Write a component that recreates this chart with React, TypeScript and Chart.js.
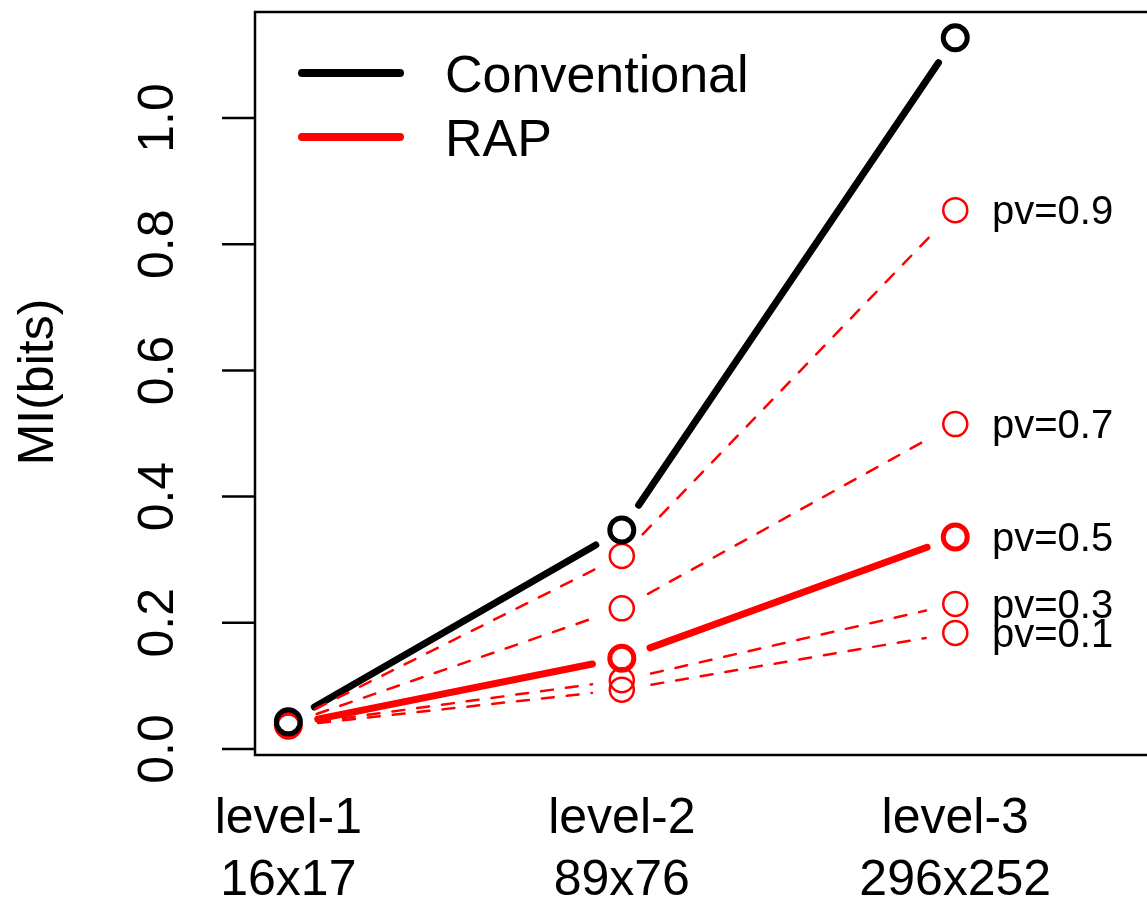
import React, { useEffect, useRef } from "react";
import { Chart, registerables } from "chart.js";

Chart.register(...registerables);

const levels = ["level-1", "level-2", "level-3"];
const sizes = ["16x17", "89x76", "296x252"];
const levelX = [1, 2, 3];

const conventional = [0.043, 0.347, 1.127];
const rapPv09 = [0.042, 0.306, 0.854];
const rapPv07 = [0.04, 0.223, 0.515];
const rapPv05 = [0.038, 0.144, 0.336];
const rapPv03 = [0.037, 0.109, 0.23];
const rapPv01 = [0.036, 0.094, 0.184];

const yTicks = [0.0, 0.2, 0.4, 0.6, 0.8, 1.0];
const yTickLabels = ["0.0", "0.2", "0.4", "0.6", "0.8", "1.0"];
const legendLabels = ["Conventional", "RAP"];

const FONT = '"Liberation Sans", Arial, sans-serif';

type Series = {
  name: string;
  values: number[];
  color: string;
  lineWidth: number;
  pointWidth: number;
  dashed: boolean;
  label: string | null;
};

const series: Series[] = [
  { name: "Conventional", values: conventional, color: "#000000", lineWidth: 7, pointWidth: 5, dashed: false, label: null },
  { name: "pv=0.9", values: rapPv09, color: "#FF0000", lineWidth: 2.5, pointWidth: 2.5, dashed: true, label: "pv=0.9" },
  { name: "pv=0.7", values: rapPv07, color: "#FF0000", lineWidth: 2.5, pointWidth: 2.5, dashed: true, label: "pv=0.7" },
  { name: "pv=0.5", values: rapPv05, color: "#FF0000", lineWidth: 7, pointWidth: 5, dashed: false, label: "pv=0.5" },
  { name: "pv=0.3", values: rapPv03, color: "#FF0000", lineWidth: 2.5, pointWidth: 2.5, dashed: true, label: "pv=0.3" },
  { name: "pv=0.1", values: rapPv01, color: "#FF0000", lineWidth: 2.5, pointWidth: 2.5, dashed: true, label: "pv=0.1" },
];

const gappedLines = {
  id: "gappedLines",
  beforeDatasetsDraw(chart: any) {
    const ctx = chart.ctx;
    const gap = 30;
    ctx.save();
    series.forEach((s, i) => {
      const meta = chart.getDatasetMeta(i);
      const pts = meta.data;
      ctx.strokeStyle = s.color;
      ctx.lineWidth = s.lineWidth;
      ctx.lineCap = "round";
      ctx.setLineDash(s.dashed ? [12, 13] : []);
      for (let k = 0; k < pts.length - 1; k++) {
        const x0 = pts[k].x, y0 = pts[k].y, x1 = pts[k + 1].x, y1 = pts[k + 1].y;
        const L = Math.hypot(x1 - x0, y1 - y0);
        if (L <= 2 * gap) continue;
        const ux = (x1 - x0) / L, uy = (y1 - y0) / L;
        ctx.beginPath();
        ctx.moveTo(x0 + ux * gap, y0 + uy * gap);
        ctx.lineTo(x1 - ux * gap, y1 - uy * gap);
        ctx.stroke();
      }
    });
    ctx.restore();
  },
};

const decorations = {
  id: "decorations",
  afterDraw(chart: any) {
    const ctx = chart.ctx;
    const area = chart.chartArea;
    const ys = chart.scales.y;
    const xs = chart.scales.x;
    ctx.save();
    ctx.setLineDash([]);
    // box
    ctx.strokeStyle = "#000";
    ctx.lineWidth = 2.5;
    ctx.strokeRect(area.left, area.top, area.right - area.left, area.bottom - area.top);
    // y ticks
    ctx.lineWidth = 2.5;
    ctx.fillStyle = "#000";
    ctx.font = `50px ${FONT}`;
    yTicks.forEach((v, i) => {
      const py = ys.getPixelForValue(v);
      ctx.beginPath();
      ctx.moveTo(area.left - 33, py);
      ctx.lineTo(area.left, py);
      ctx.stroke();
      ctx.save();
      ctx.translate(173, py);
      ctx.rotate(-Math.PI / 2);
      ctx.textAlign = "center";
      ctx.textBaseline = "alphabetic";
      ctx.fillText(yTickLabels[i], 0, 0);
      ctx.restore();
    });
    // y title
    ctx.save();
    ctx.translate(53, 382);
    ctx.rotate(-Math.PI / 2);
    ctx.textAlign = "center";
    ctx.textBaseline = "alphabetic";
    ctx.font = `50px ${FONT}`;
    ctx.fillText("MI(bits)", 0, 0);
    ctx.restore();
    // x labels
    ctx.textAlign = "center";
    ctx.textBaseline = "alphabetic";
    ctx.font = `50px ${FONT}`;
    levelX.forEach((xv, i) => {
      const px = xs.getPixelForValue(xv);
      ctx.fillText(levels[i], px, 833);
      ctx.fillText(sizes[i], px, 895);
    });
    // pv labels at level-3
    ctx.textAlign = "left";
    ctx.font = `40px ${FONT}`;
    series.forEach((s) => {
      if (!s.label) return;
      const py = ys.getPixelForValue(s.values[2]);
      ctx.fillText(s.label, 992, py + 14);
    });
    // legend
    const legendColors = ["#000000", "#FF0000"];
    const legendY = [73, 137];
    ctx.lineCap = "round";
    ctx.lineWidth = 8;
    ctx.font = `52px ${FONT}`;
    legendLabels.forEach((lab, i) => {
      ctx.strokeStyle = legendColors[i];
      ctx.beginPath();
      ctx.moveTo(302, legendY[i]);
      ctx.lineTo(400, legendY[i]);
      ctx.stroke();
      ctx.fillStyle = "#000";
      ctx.fillText(lab, 445, legendY[i] + 19);
    });
    ctx.restore();
  },
};

export default function App() {
  const ref = useRef<HTMLCanvasElement | null>(null);
  useEffect(() => {
    document.body.style.margin = "0";
    const canvas = ref.current;
    if (!canvas) return;
    const chart = new Chart(canvas, {
      type: "scatter",
      data: {
        datasets: series.map((s) => ({
          label: s.name,
          data: s.values.map((v, i) => ({ x: levelX[i], y: v })),
          showLine: false,
          pointRadius: 12,
          pointHoverRadius: 12,
          pointBorderWidth: s.pointWidth,
          pointBorderColor: s.color,
          pointBackgroundColor: "rgba(0,0,0,0)",
          borderColor: s.color,
        })),
      },
      options: {
        responsive: false,
        animation: false,
        events: [],
        layout: { autoPadding: false, padding: { top: 12, right: 3, left: 0, bottom: 0 } },
        plugins: { legend: { display: false }, tooltip: { enabled: false } },
        scales: {
          x: {
            type: "linear",
            min: 0.9,
            max: 3.605,
            grid: { display: false },
            border: { display: false },
            ticks: { display: false },
            afterFit(scale: any) {
              scale.height = 148;
            },
          },
          y: {
            type: "linear",
            min: -0.0095,
            max: 1.168,
            grid: { display: false },
            border: { display: false },
            ticks: { display: false },
            afterFit(scale: any) {
              scale.width = 255;
            },
          },
        },
      },
      plugins: [gappedLines, decorations],
    });
    return () => chart.destroy();
  }, []);
  return (
    <div style={{ width: 1147, height: 903, overflow: "hidden", background: "#fff" }}>
      <canvas ref={ref} width={1160} height={903} style={{ display: "block" }} />
    </div>
  );
}
